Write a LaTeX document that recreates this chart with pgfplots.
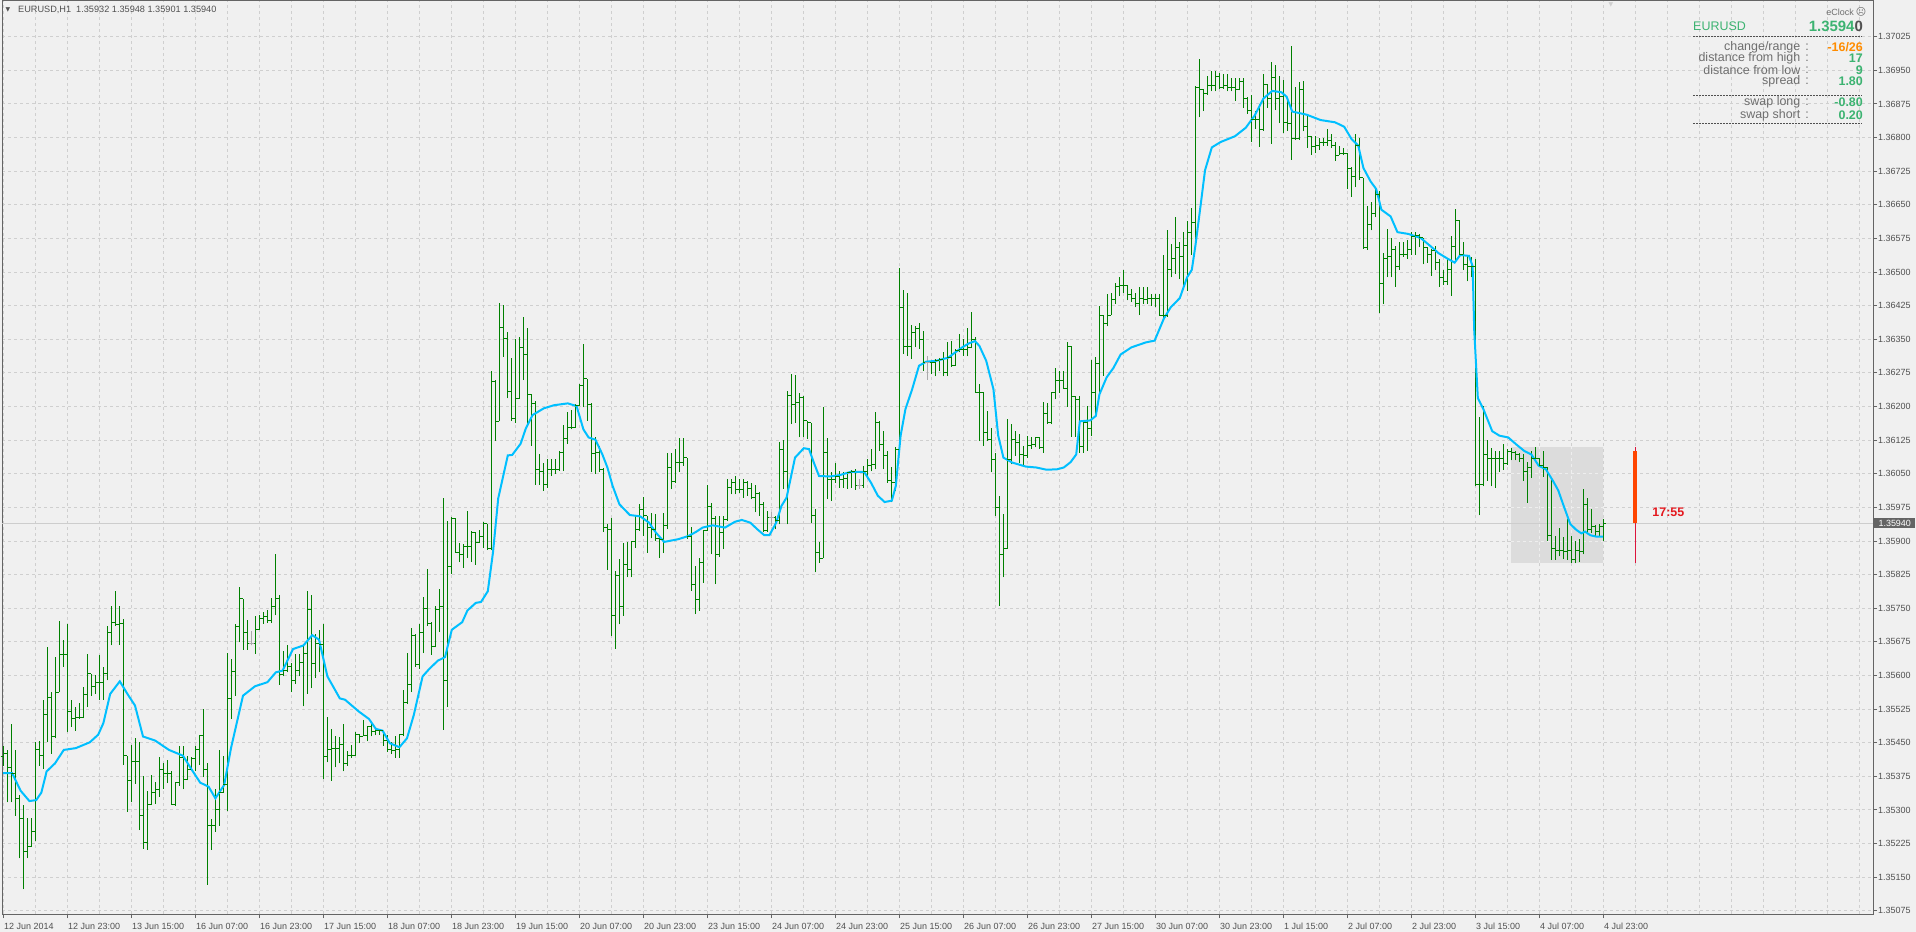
\documentclass[border=0pt]{standalone}
\usepackage{fontspec}
\setmainfont{Liberation Sans}
\newfontfamily\djv{DejaVu Sans}
\usepackage{pgfplots}
\usepackage{pgfplotstable}
\pgfplotsset{compat=1.18}
\definecolor{bg}{RGB}{240,240,240}
\definecolor{gridc}{RGB}{207,207,207}
\definecolor{gridin}{RGB}{238,238,238}
\definecolor{axc}{RGB}{100,100,100}
\definecolor{txt}{RGB}{80,80,80}
\definecolor{lbl}{RGB}{110,110,110}
\definecolor{barg}{RGB}{0,128,0}
\definecolor{doji}{RGB}{170,170,170}
\definecolor{ma}{RGB}{0,191,255}
\definecolor{sea}{RGB}{60,179,113}
\definecolor{dorange}{RGB}{255,140,0}
\definecolor{crim}{RGB}{220,20,60}
\definecolor{ored}{RGB}{255,69,0}
\definecolor{rectc}{RGB}{220,220,220}
\definecolor{cpline}{RGB}{205,205,205}
\definecolor{cpbox}{RGB}{100,100,100}
\definecolor{clockred}{RGB}{228,24,30}

\pgfdeclareplotmark{opentick}{\pgfpathmoveto{\pgfqpoint{-2.5bp}{0pt}}\pgfpathlineto{\pgfqpoint{0pt}{0pt}}\pgfusepathqstroke}
\pgfdeclareplotmark{closetick}{\pgfpathmoveto{\pgfqpoint{0pt}{0pt}}\pgfpathlineto{\pgfqpoint{2.5bp}{0pt}}\pgfusepathqstroke}

\pgfplotstableread{
H L O C
1.35443 1.35398 1.35420 1.35425
1.35434 1.35317 1.35425 1.35395
1.35492 1.35317 1.35395 1.35382
1.35434 1.35287 1.35382 1.35326
1.35334 1.35192 1.35326 1.35280
1.35311 1.35123 1.35280 1.35207
1.35283 1.35192 1.35207 1.35218
1.35283 1.35218 1.35218 1.35251
1.35451 1.35231 1.35251 1.35434
1.35453 1.35399 1.35434 1.35421
1.35546 1.35391 1.35421 1.35512
1.35663 1.35451 1.35512 1.35551
1.35563 1.35425 1.35551 1.35464
1.35641 1.35460 1.35464 1.35563
1.35721 1.35563 1.35563 1.35646
1.35680 1.35620 1.35646 1.35646
1.35715 1.35473 1.35646 1.35519
1.35546 1.35486 1.35519 1.35503
1.35529 1.35477 1.35503 1.35507
1.35539 1.35503 1.35507 1.35507
1.35574 1.35505 1.35507 1.35557
1.35648 1.35529 1.35557 1.35604
1.35604 1.35555 1.35604 1.35576
1.35602 1.35559 1.35576 1.35585
1.35645 1.35546 1.35585 1.35585
1.35620 1.35546 1.35585 1.35604
1.35710 1.35589 1.35604 1.35697
1.35754 1.35667 1.35697 1.35719
1.35788 1.35710 1.35719 1.35713
1.35755 1.35669 1.35713 1.35715
1.35726 1.35401 1.35715 1.35421
1.35421 1.35296 1.35421 1.35365
1.35444 1.35317 1.35365 1.35408
1.35460 1.35358 1.35408 1.35408
1.35451 1.35255 1.35408 1.35287
1.35375 1.35214 1.35287 1.35227
1.35343 1.35211 1.35227 1.35313
1.35378 1.35311 1.35313 1.35339
1.35363 1.35313 1.35339 1.35346
1.35418 1.35330 1.35346 1.35391
1.35404 1.35347 1.35391 1.35382
1.35412 1.35360 1.35382 1.35382
1.35386 1.35313 1.35382 1.35313
1.35363 1.35310 1.35313 1.35361
1.35443 1.35354 1.35361 1.35417
1.35443 1.35346 1.35417 1.35369
1.35421 1.35366 1.35369 1.35391
1.35418 1.35390 1.35391 1.35415
1.35443 1.35386 1.35415 1.35434
1.35468 1.35401 1.35434 1.35467
1.35525 1.35373 1.35467 1.35391
1.35404 1.35133 1.35391 1.35265
1.35280 1.35211 1.35265 1.35265
1.35347 1.35252 1.35265 1.35300
1.35434 1.35265 1.35300 1.35339
1.35421 1.35339 1.35339 1.35356
1.35650 1.35297 1.35356 1.35548
1.35637 1.35503 1.35548 1.35608
1.35715 1.35555 1.35608 1.35710
1.35797 1.35674 1.35710 1.35771
1.35771 1.35657 1.35771 1.35697
1.35723 1.35658 1.35697 1.35671
1.35700 1.35667 1.35671 1.35671
1.35732 1.35648 1.35671 1.35702
1.35736 1.35702 1.35702 1.35728
1.35741 1.35715 1.35728 1.35732
1.35745 1.35717 1.35732 1.35723
1.35772 1.35717 1.35723 1.35755
1.35870 1.35734 1.35755 1.35771
1.35779 1.35579 1.35771 1.35602
1.35654 1.35598 1.35602 1.35611
1.35667 1.35607 1.35611 1.35620
1.35628 1.35563 1.35620 1.35589
1.35648 1.35581 1.35589 1.35611
1.35648 1.35598 1.35611 1.35628
1.35671 1.35531 1.35628 1.35648
1.35788 1.35559 1.35648 1.35748
1.35779 1.35572 1.35748 1.35626
1.35693 1.35594 1.35626 1.35671
1.35702 1.35607 1.35671 1.35669
1.35715 1.35369 1.35669 1.35419
1.35507 1.35406 1.35419 1.35434
1.35481 1.35365 1.35434 1.35438
1.35464 1.35395 1.35438 1.35438
1.35462 1.35404 1.35438 1.35447
1.35492 1.35386 1.35447 1.35404
1.35432 1.35399 1.35404 1.35421
1.35444 1.35417 1.35421 1.35421
1.35473 1.35421 1.35421 1.35468
1.35470 1.35449 1.35468 1.35464
1.35501 1.35464 1.35464 1.35467
1.35487 1.35453 1.35467 1.35486
1.35496 1.35464 1.35486 1.35475
1.35484 1.35467 1.35475 1.35477
1.35481 1.35468 1.35477 1.35477
1.35477 1.35443 1.35477 1.35455
1.35468 1.35430 1.35455 1.35434
1.35451 1.35425 1.35434 1.35432
1.35464 1.35417 1.35432 1.35434
1.35470 1.35417 1.35434 1.35468
1.35568 1.35464 1.35468 1.35539
1.35650 1.35536 1.35539 1.35579
1.35706 1.35563 1.35579 1.35689
1.35692 1.35620 1.35689 1.35624
1.35715 1.35615 1.35624 1.35695
1.35775 1.35650 1.35695 1.35749
1.35838 1.35710 1.35749 1.35717
1.35719 1.35646 1.35717 1.35665
1.35754 1.35663 1.35665 1.35747
1.35792 1.35697 1.35747 1.35755
1.35995 1.35479 1.35755 1.35588
1.35944 1.35529 1.35588 1.35844
1.35954 1.35827 1.35844 1.35950
1.35952 1.35875 1.35950 1.35875
1.35896 1.35853 1.35875 1.35870
1.35894 1.35840 1.35870 1.35887
1.35968 1.35862 1.35887 1.35887
1.35922 1.35853 1.35887 1.35919
1.35919 1.35847 1.35919 1.35896
1.35925 1.35896 1.35896 1.35909
1.35942 1.35885 1.35909 1.35939
1.35939 1.35881 1.35939 1.35883
1.36279 1.35879 1.35883 1.36255
1.36259 1.36123 1.36255 1.36167
1.36430 1.36167 1.36167 1.36376
1.36427 1.36311 1.36376 1.36351
1.36367 1.36218 1.36351 1.36233
1.36308 1.36168 1.36233 1.36173
1.36350 1.36164 1.36173 1.36217
1.36354 1.36217 1.36217 1.36331
1.36400 1.36259 1.36331 1.36315
1.36376 1.36155 1.36315 1.36227
1.36227 1.36112 1.36227 1.36207
1.36212 1.36026 1.36207 1.36060
1.36093 1.36026 1.36060 1.36054
1.36075 1.36012 1.36054 1.36026
1.36084 1.36019 1.36026 1.36060
1.36084 1.36045 1.36060 1.36059
1.36084 1.36049 1.36059 1.36060
1.36101 1.36056 1.36060 1.36097
1.36158 1.36056 1.36097 1.36129
1.36187 1.36116 1.36129 1.36153
1.36192 1.36149 1.36153 1.36153
1.36205 1.36153 1.36153 1.36203
1.36250 1.36201 1.36203 1.36246
1.36339 1.36198 1.36246 1.36262
1.36262 1.36168 1.36262 1.36205
1.36207 1.36053 1.36205 1.36096
1.36131 1.36049 1.36096 1.36097
1.36112 1.36054 1.36097 1.36060
1.36062 1.35920 1.36060 1.35930
1.35937 1.35836 1.35930 1.35926
1.35952 1.35688 1.35926 1.35733
1.35833 1.35660 1.35733 1.35824
1.35859 1.35714 1.35824 1.35754
1.35895 1.35733 1.35754 1.35848
1.35897 1.35819 1.35848 1.35837
1.35900 1.35819 1.35837 1.35898
1.35956 1.35885 1.35898 1.35926
1.35982 1.35923 1.35926 1.35971
1.35999 1.35911 1.35971 1.35956
1.35956 1.35874 1.35956 1.35930
1.35962 1.35906 1.35930 1.35926
1.35960 1.35900 1.35926 1.35905
1.35911 1.35863 1.35905 1.35904
1.35962 1.35873 1.35904 1.35934
1.36096 1.35926 1.35934 1.36064
1.36096 1.36016 1.36064 1.36032
1.36106 1.36030 1.36032 1.36075
1.36129 1.36054 1.36075 1.36075
1.36129 1.36068 1.36075 1.36086
1.36086 1.35904 1.36086 1.35911
1.35932 1.35789 1.35911 1.35804
1.35845 1.35737 1.35804 1.35769
1.35863 1.35744 1.35769 1.35852
1.35925 1.35807 1.35852 1.35923
1.36026 1.35923 1.35923 1.35978
1.35984 1.35871 1.35978 1.35950
1.35956 1.35804 1.35950 1.35871
1.35956 1.35865 1.35871 1.35919
1.35956 1.35882 1.35919 1.35949
1.36038 1.35945 1.35949 1.36020
1.36038 1.36004 1.36020 1.36030
1.36045 1.36004 1.36030 1.36014
1.36038 1.36008 1.36014 1.36016
1.36038 1.35997 1.36016 1.36030
1.36034 1.36001 1.36030 1.36017
1.36030 1.35993 1.36017 1.35997
1.36026 1.35964 1.35997 1.36007
1.36010 1.35956 1.36007 1.35982
1.35986 1.35919 1.35982 1.35923
1.35967 1.35920 1.35923 1.35952
1.35964 1.35934 1.35952 1.35952
1.35956 1.35926 1.35952 1.35945
1.36121 1.35937 1.35945 1.36105
1.36126 1.36016 1.36105 1.36056
1.36235 1.35937 1.36056 1.36224
1.36272 1.36161 1.36224 1.36205
1.36270 1.36164 1.36205 1.36210
1.36231 1.36131 1.36210 1.36220
1.36224 1.36131 1.36220 1.36168
1.36168 1.36127 1.36168 1.36164
1.36164 1.35941 1.36164 1.35956
1.35971 1.35830 1.35956 1.35874
1.35898 1.35852 1.35874 1.35861
1.36198 1.35861 1.35861 1.36097
1.36129 1.35993 1.36097 1.36038
1.36053 1.35990 1.36038 1.36038
1.36075 1.36030 1.36038 1.36045
1.36056 1.36019 1.36045 1.36038
1.36053 1.36019 1.36038 1.36039
1.36054 1.36017 1.36039 1.36053
1.36058 1.36019 1.36053 1.36054
1.36060 1.36014 1.36054 1.36024
1.36038 1.36017 1.36024 1.36024
1.36068 1.36019 1.36024 1.36054
1.36082 1.36038 1.36054 1.36069
1.36105 1.36056 1.36069 1.36071
1.36188 1.36060 1.36071 1.36164
1.36168 1.36101 1.36164 1.36116
1.36146 1.36060 1.36116 1.36090
1.36101 1.36030 1.36090 1.36034
1.36064 1.35986 1.36034 1.36030
1.36109 1.36011 1.36030 1.36105
1.36510 1.36101 1.36105 1.36421
1.36460 1.36317 1.36421 1.36335
1.36453 1.36313 1.36335 1.36335
1.36381 1.36306 1.36335 1.36365
1.36379 1.36332 1.36365 1.36373
1.36387 1.36328 1.36373 1.36350
1.36369 1.36280 1.36350 1.36298
1.36313 1.36260 1.36298 1.36298
1.36302 1.36272 1.36298 1.36298
1.36306 1.36267 1.36298 1.36302
1.36309 1.36280 1.36302 1.36306
1.36321 1.36267 1.36306 1.36277
1.36343 1.36268 1.36277 1.36309
1.36346 1.36289 1.36309 1.36291
1.36328 1.36291 1.36291 1.36324
1.36361 1.36321 1.36324 1.36328
1.36350 1.36313 1.36328 1.36328
1.36375 1.36312 1.36328 1.36332
1.36410 1.36330 1.36332 1.36350
1.36354 1.36231 1.36350 1.36231
1.36250 1.36123 1.36231 1.36231
1.36233 1.36112 1.36231 1.36143
1.36190 1.36123 1.36143 1.36126
1.36153 1.36053 1.36126 1.36082
1.36097 1.35956 1.36082 1.35975
1.36001 1.35755 1.35975 1.35871
1.35960 1.35819 1.35871 1.35883
1.36173 1.35882 1.35883 1.36082
1.36161 1.36071 1.36082 1.36127
1.36146 1.36090 1.36127 1.36120
1.36138 1.36075 1.36120 1.36094
1.36112 1.36068 1.36094 1.36090
1.36135 1.36086 1.36090 1.36112
1.36133 1.36105 1.36112 1.36116
1.36133 1.36109 1.36116 1.36131
1.36133 1.36105 1.36131 1.36109
1.36209 1.36097 1.36109 1.36185
1.36207 1.36161 1.36185 1.36164
1.36231 1.36161 1.36164 1.36231
1.36287 1.36216 1.36231 1.36257
1.36280 1.36231 1.36257 1.36257
1.36280 1.36239 1.36257 1.36240
1.36343 1.36200 1.36240 1.36335
1.36335 1.36133 1.36335 1.36223
1.36223 1.36133 1.36223 1.36215
1.36223 1.36097 1.36215 1.36110
1.36169 1.36097 1.36110 1.36164
1.36202 1.36101 1.36164 1.36152
1.36303 1.36135 1.36152 1.36232
1.36311 1.36177 1.36232 1.36295
1.36425 1.36223 1.36295 1.36404
1.36404 1.36269 1.36404 1.36385
1.36450 1.36379 1.36385 1.36404
1.36454 1.36404 1.36404 1.36439
1.36475 1.36429 1.36439 1.36467
1.36488 1.36446 1.36467 1.36471
1.36505 1.36454 1.36471 1.36471
1.36471 1.36437 1.36471 1.36450
1.36463 1.36433 1.36450 1.36442
1.36454 1.36421 1.36442 1.36429
1.36467 1.36404 1.36429 1.36442
1.36467 1.36429 1.36442 1.36439
1.36467 1.36429 1.36439 1.36442
1.36452 1.36425 1.36442 1.36442
1.36452 1.36421 1.36442 1.36442
1.36452 1.36404 1.36442 1.36404
1.36538 1.36395 1.36404 1.36404
1.36593 1.36400 1.36404 1.36505
1.36563 1.36488 1.36505 1.36530
1.36622 1.36496 1.36530 1.36555
1.36568 1.36484 1.36555 1.36534
1.36589 1.36463 1.36534 1.36559
1.36614 1.36458 1.36559 1.36589
1.36643 1.36538 1.36589 1.36610
1.36916 1.36559 1.36610 1.36912
1.36975 1.36845 1.36912 1.36908
1.36908 1.36859 1.36908 1.36899
1.36937 1.36895 1.36899 1.36916
1.36948 1.36903 1.36916 1.36916
1.36948 1.36903 1.36916 1.36937
1.36943 1.36908 1.36937 1.36912
1.36941 1.36908 1.36912 1.36916
1.36941 1.36903 1.36916 1.36912
1.36933 1.36903 1.36912 1.36912
1.36933 1.36882 1.36912 1.36908
1.36933 1.36905 1.36908 1.36924
1.36933 1.36866 1.36924 1.36887
1.36891 1.36853 1.36887 1.36861
1.36895 1.36790 1.36861 1.36840
1.36859 1.36819 1.36840 1.36840
1.36874 1.36780 1.36840 1.36819
1.36941 1.36815 1.36819 1.36918
1.36920 1.36866 1.36918 1.36887
1.36968 1.36786 1.36887 1.36935
1.36962 1.36861 1.36935 1.36887
1.36937 1.36832 1.36887 1.36891
1.36929 1.36811 1.36891 1.36834
1.36887 1.36815 1.36834 1.36832
1.37004 1.36750 1.36832 1.36797
1.36912 1.36794 1.36797 1.36798
1.36924 1.36795 1.36798 1.36908
1.36926 1.36814 1.36908 1.36824
1.36853 1.36777 1.36824 1.36803
1.36803 1.36761 1.36803 1.36780
1.36803 1.36765 1.36780 1.36782
1.36798 1.36773 1.36782 1.36790
1.36798 1.36782 1.36790 1.36790
1.36819 1.36782 1.36790 1.36794
1.36807 1.36777 1.36794 1.36782
1.36790 1.36748 1.36782 1.36761
1.36782 1.36761 1.36761 1.36765
1.36777 1.36761 1.36765 1.36765
1.36765 1.36685 1.36765 1.36731
1.36735 1.36668 1.36731 1.36714
1.36807 1.36689 1.36714 1.36782
1.36798 1.36706 1.36782 1.36710
1.36710 1.36551 1.36710 1.36555
1.36647 1.36550 1.36555 1.36605
1.36656 1.36593 1.36605 1.36630
1.36689 1.36622 1.36630 1.36672
1.36681 1.36408 1.36672 1.36475
1.36542 1.36429 1.36475 1.36530
1.36597 1.36488 1.36530 1.36534
1.36576 1.36488 1.36534 1.36551
1.36559 1.36467 1.36551 1.36513
1.36568 1.36505 1.36513 1.36538
1.36568 1.36534 1.36538 1.36538
1.36572 1.36530 1.36538 1.36551
1.36589 1.36538 1.36551 1.36580
1.36589 1.36538 1.36580 1.36582
1.36585 1.36555 1.36582 1.36576
1.36576 1.36517 1.36576 1.36555
1.36555 1.36521 1.36555 1.36538
1.36551 1.36492 1.36538 1.36547
1.36559 1.36505 1.36547 1.36521
1.36530 1.36467 1.36521 1.36488
1.36505 1.36471 1.36488 1.36479
1.36530 1.36471 1.36479 1.36505
1.36580 1.36447 1.36505 1.36557
1.36641 1.36521 1.36557 1.36615
1.36615 1.36538 1.36615 1.36538
1.36568 1.36505 1.36538 1.36517
1.36538 1.36479 1.36517 1.36513
1.36534 1.36488 1.36513 1.36513
1.36530 1.36022 1.36513 1.36026
1.36177 1.35957 1.36026 1.36026
1.36202 1.36022 1.36026 1.36093
1.36125 1.36034 1.36093 1.36085
1.36108 1.36022 1.36085 1.36085
1.36101 1.36019 1.36085 1.36085
1.36101 1.36055 1.36085 1.36085
1.36116 1.36059 1.36085 1.36072
1.36106 1.36070 1.36072 1.36100
1.36108 1.36080 1.36100 1.36097
1.36101 1.36080 1.36097 1.36093
1.36097 1.36076 1.36093 1.36085
1.36093 1.36034 1.36085 1.36055
1.36076 1.35985 1.36055 1.36064
1.36101 1.36041 1.36064 1.36085
1.36110 1.36085 1.36085 1.36085
1.36085 1.36064 1.36085 1.36068
1.36100 1.36043 1.36068 1.36064
1.36064 1.35901 1.36064 1.35912
1.36038 1.35858 1.35912 1.35883
1.35912 1.35858 1.35883 1.35879
1.35929 1.35866 1.35879 1.35879
1.35908 1.35859 1.35879 1.35876
1.35950 1.35858 1.35876 1.35879
1.35912 1.35851 1.35879 1.35858
1.35900 1.35850 1.35858 1.35879
1.35904 1.35853 1.35879 1.35876
1.36016 1.35870 1.35876 1.35982
1.35996 1.35917 1.35982 1.35925
1.35971 1.35917 1.35925 1.35932
1.35935 1.35912 1.35932 1.35921
1.35938 1.35912 1.35921 1.35932
1.35948 1.35901 1.35932 1.35940
}\ohlc

% doji bars (open = close), drawn in grey
\pgfplotstableread{
X H L C
62 1.35700 1.35667 1.35671
192 1.35964 1.35934 1.35952
214 1.36038 1.36017 1.36024
231 1.36313 1.36260 1.36298
}\doji

\begin{document}
\begin{tikzpicture}
\useasboundingbox (0,0) rectangle (1916bp,932bp);
\fill[bg] (0,0) rectangle (1916bp,932bp);
\begin{axis}[
  at={(2bp,18bp)}, anchor=south west,
  scale only axis, width=1871bp, height=913bp,
  % y axis in points above 1.35000 (prices are converted by the filter)
  y filter/.expression={(y-1.35)*100000},
  xmin=-0.25, xmax=467.5, ymin=68, ymax=2104.6,
  axis line style={draw=axc, line width=1bp},
  tick style={draw=axc, line width=1bp},
  tick align=outside, major tick length=4bp, minor tick length=0pt,
  xtick pos=bottom, ytick pos=right, yticklabel pos=right,
  xtick={0,16,...,400},
  xticklabels={12 Jun 2014,12 Jun 23:00,13 Jun 15:00,16 Jun 07:00,16 Jun 23:00,17 Jun 15:00,18 Jun 07:00,18 Jun 23:00,19 Jun 15:00,20 Jun 07:00,20 Jun 23:00,23 Jun 15:00,24 Jun 07:00,24 Jun 23:00,25 Jun 15:00,26 Jun 07:00,26 Jun 23:00,27 Jun 15:00,30 Jun 07:00,30 Jun 23:00,1 Jul 15:00,2 Jul 07:00,2 Jul 23:00,3 Jul 15:00,4 Jul 07:00,4 Jul 23:00},
  minor xtick={0,8,...,464},
  ytick={75,150,...,2025},
  yticklabels={1.35075,1.35150,1.35225,1.35300,1.35375,1.35450,1.35525,1.35600,1.35675,1.35750,1.35825,1.35900,1.35975,1.36050,1.36125,1.36200,1.36275,1.36350,1.36425,1.36500,1.36575,1.36650,1.36725,1.36800,1.36875,1.36950,1.37025},
  xmajorgrids=false, xminorgrids=true, ymajorgrids=true,
  major grid style={draw=gridc, line width=1bp, dash pattern=on 3bp off 3bp},
  minor grid style={draw=gridc, line width=1bp, dash pattern=on 3bp off 3bp},
  xticklabel style={anchor=north west, inner sep=0pt, xshift=1bp, yshift=-5bp, font=\fontsize{9}{10}\selectfont, text=txt},
  yticklabel style={anchor=west, inner sep=0pt, xshift=1bp, font=\fontsize{9}{10}\selectfont, text=txt},
]
% today's range rectangle
\addplot[draw=none, fill=rectc] coordinates {(377,1.35850) (400,1.35850) (400,1.36110) (377,1.36110)};
% grid seen through the rectangle (lighter)
\addplot[gridin, line width=1bp, dash pattern=on 3bp off 3bp] coordinates {(384,1.35850) (384,1.36110)};
\addplot[gridin, line width=1bp, dash pattern=on 3bp off 3bp] coordinates {(392,1.35850) (392,1.36110)};
\addplot[gridin, line width=1bp, dash pattern=on 3bp off 3bp] coordinates {(400,1.35850) (400,1.36110)};
\addplot[gridin, line width=1bp, dash pattern=on 3bp off 3bp] coordinates {(377,1.35900) (400,1.35900)};
\addplot[gridin, line width=1bp, dash pattern=on 3bp off 3bp] coordinates {(377,1.35975) (400,1.35975)};
\addplot[gridin, line width=1bp, dash pattern=on 3bp off 3bp] coordinates {(377,1.36050) (400,1.36050)};
% current price line
\addplot[cpline, line width=1bp] coordinates {(-0.25,1.35940) (467.5,1.35940)};
% high-low bars
\addplot[draw=none, mark=none,
  error bars/.cd, y dir=plus, y explicit, error mark=none,
  error bar style={draw=barg, line width=1bp, solid}]
  table[x expr=\coordindex, y=L, y error expr=(\thisrow{H}-\thisrow{L})*100000] {\ohlc};
% open and close ticks
\addplot[only marks, mark=opentick, mark options={draw=barg, line width=1bp, solid}]
  table[x expr=\coordindex, y=O] {\ohlc};
\addplot[only marks, mark=closetick, mark options={draw=barg, line width=1bp, solid}]
  table[x expr=\coordindex, y=C] {\ohlc};
% doji bars in grey
\addplot[draw=none, mark=none,
  error bars/.cd, y dir=plus, y explicit, error mark=none,
  error bar style={draw=doji, line width=1bp, solid}]
  table[x=X, y=L, y error expr=(\thisrow{H}-\thisrow{L})*100000] {\doji};
\addplot[only marks, mark=opentick, mark options={draw=doji, line width=1bp, solid}]
  table[x=X, y=C] {\doji};
\addplot[only marks, mark=closetick, mark options={draw=doji, line width=1bp, solid}]
  table[x=X, y=C] {\doji};
% moving average
\addplot[ma, line width=2bp, mark=none] coordinates {
(0,1.35382)(2.3,1.35382)(4.4,1.35343)(6.6,1.35320)(8.3,1.35322)(9.6,1.35339)(10.9,1.35386)(13,1.35404)(15.2,1.35434)(18.2,1.35438)(21.7,1.35451)(23.8,1.35468)(25.1,1.35494)(26.8,1.35559)(29.2,1.35587)(31.1,1.35559)(33,1.35533)(35,1.35464)(38,1.35455)(41.5,1.35434)(45,1.35421)(47.1,1.35391)(49.3,1.35361)(51.4,1.35352)(53.1,1.35326)(55.3,1.35356)(57,1.35438)(60,1.35555)(63,1.35576)(66.1,1.35585)(68.2,1.35607)(69.9,1.35611)(72.5,1.35659)(75.1,1.35667)(77.3,1.35690)(79,1.35680)(81.1,1.35598)(84.2,1.35549)(85.5,1.35546)(88.9,1.35520)(91.5,1.35503)(93.2,1.35481)(94.9,1.35477)(96.7,1.35449)(99.1,1.35440)(101,1.35460)(102.7,1.35512)(104.9,1.35598)(106.6,1.35615)(108.7,1.35633)(110.5,1.35641)(112.2,1.35702)(114.8,1.35719)(116.1,1.35745)(118.2,1.35762)(119.5,1.35764)(121.2,1.35788)(122.5,1.35875)(123.8,1.35995)(126.2,1.36091)(127.3,1.36092)(129.4,1.36117)(130.7,1.36151)(132.4,1.36181)(135.2,1.36196)(137.8,1.36203)(141.2,1.36207)(143.4,1.36201)(145.1,1.36149)(146.4,1.36131)(148.1,1.36126)(149.8,1.36094)(151.1,1.36064)(152.4,1.36023)(154.1,1.35982)(156.7,1.35958)(159.3,1.35955)(161.5,1.35941)(163.2,1.35919)(165.3,1.35898)(168.8,1.35904)(171.3,1.35911)(173.2,1.35920)(174.9,1.35930)(177.4,1.35935)(180.5,1.35930)(183,1.35943)(184.7,1.35947)(186.8,1.35941)(188.6,1.35926)(190.3,1.35913)(191.6,1.35913)(193.3,1.35941)(194.6,1.35978)(195.9,1.35997)(198,1.36086)(200.2,1.36107)(201.5,1.36105)(202.7,1.36075)(204,1.36045)(206.7,1.36044)(209.2,1.36047)(211.8,1.36054)(215.3,1.36054)(217,1.36030)(218.7,1.36001)(220.4,1.35987)(222.2,1.35990)(223.2,1.36023)(224.4,1.36135)(225.6,1.36194)(227.3,1.36239)(229,1.36291)(230.8,1.36300)(233.3,1.36302)(236.3,1.36309)(238.1,1.36321)(239.8,1.36332)(241.5,1.36341)(243,1.36346)(244.1,1.36335)(245.8,1.36302)(247.6,1.36239)(248.8,1.36135)(250.1,1.36086)(252.3,1.36075)(255.7,1.36066)(258.3,1.36064)(260.9,1.36059)(263.5,1.36060)(265.2,1.36064)(266.9,1.36076)(268.3,1.36093)(269.2,1.36167)(271.8,1.36169)(273.2,1.36179)(274.1,1.36227)(275.9,1.36265)(277.6,1.36286)(279.4,1.36316)(282.1,1.36332)(285.7,1.36343)(287.9,1.36347)(290.2,1.36396)(291.9,1.36421)(294.2,1.36442)(296,1.36488)(297.2,1.36505)(298.1,1.36559)(299.5,1.36656)(300.5,1.36727)(302.2,1.36778)(304.4,1.36790)(308,1.36803)(310.7,1.36822)(312.9,1.36849)(315.1,1.36887)(317.3,1.36904)(319.6,1.36901)(320.9,1.36891)(322.3,1.36858)(325.9,1.36851)(329.4,1.36839)(333,1.36834)(335.3,1.36824)(337.1,1.36797)(338.8,1.36782)(340.1,1.36732)(341.9,1.36702)(343.3,1.36685)(344.6,1.36639)(346.9,1.36624)(348.6,1.36589)(351.3,1.36585)(354.4,1.36576)(356.7,1.36559)(358.9,1.36542)(361.1,1.36530)(362.9,1.36521)(364.3,1.36538)(366.5,1.36536)(367.4,1.36513)(367.8,1.36370)(368.7,1.36219)(370.1,1.36194)(372.3,1.36145)(374.1,1.36135)(376.3,1.36131)(378.5,1.36114)(380.3,1.36101)(382.1,1.36093)(383.9,1.36068)(385.7,1.36060)(387.5,1.36034)(388.8,1.36013)(390.1,1.35980)(391.8,1.35938)(393.3,1.35925)(394.6,1.35917)(395.5,1.35921)(396.8,1.35913)(398.2,1.35910)(400,1.35910)
};
% day range / change bar
\addplot[crim, line width=1bp] coordinates {(408,1.35850) (408,1.36110)};
\addplot[ored, line width=4bp] coordinates {(408,1.36100) (408,1.35940)};
\node[anchor=west, inner sep=0pt, text=clockred, font=\bfseries\fontsize{12.5}{14}\selectfont] at (axis cs:412.3,965) {17:55};
\coordinate (cp) at (axis cs:467.5,940);
\end{axis}
% current price label
\node[fill=cpbox, text=white, anchor=west, inner xsep=0pt, inner ysep=1.6bp, minimum width=41bp, font=\fontsize{9}{10}\selectfont] at ([xshift=1bp]cp) {1.35940};
% header
\node[anchor=center, inner sep=0pt, text=txt] at (8bp,922bp) {\djv\fontsize{6}{6}\selectfont ▼};
\node[anchor=west, inner sep=0pt, text=txt, font=\fontsize{9.2}{11}\selectfont] at (18bp,922bp) {EURUSD,H1\ \ 1.35932 1.35948 1.35901 1.35940};
\node[anchor=center, inner sep=0pt, text=gridc] at (1611bp,927bp) {\djv\fontsize{6}{6}\selectfont ▼};
% info panel
\node[anchor=east, inner sep=0pt, text=lbl, font=\fontsize{9}{10}\selectfont] at (1854bp,920bp) {eClock};
\node[anchor=center, inner sep=0pt, text=lbl] at (1861bp,920bp) {\djv\fontsize{10}{10}\selectfont ☹};
\node[anchor=west, inner sep=0pt, text=sea, font=\fontsize{12.5}{14}\selectfont] at (1693bp,906bp) {EURUSD};
\node[anchor=east, inner sep=0pt, font=\bfseries\fontsize{15}{17}\selectfont] at (1863bp,906bp) {\textcolor{sea}{1.3594}\textcolor{txt}{0}};
\draw[txt, line width=1bp, dash pattern=on 2bp off 1bp] (1693bp,895bp) -- (1862bp,895bp);
\draw[txt, line width=1bp, dash pattern=on 2bp off 1bp] (1693bp,836bp) -- (1862bp,836bp);
\draw[txt, line width=1bp, dash pattern=on 2bp off 1bp] (1693bp,808bp) -- (1862bp,808bp);
\foreach \yy/\lab/\val/\col in {885/change\slash range/-16\slash 26/dorange, 873.5/distance from high/17/sea, 862/distance from low/9/sea, 850.5/spread/1.80/sea, 830/swap long/-0.80/sea, 817/swap short/0.20/sea}{
  \node[anchor=east, inner sep=0pt, text=lbl, font=\fontsize{12.5}{14}\selectfont] at (1800.5bp,\yy bp) {\lab};
  \node[anchor=center, inner sep=0pt, text=lbl, font=\fontsize{12.5}{14}\selectfont] at (1807bp,\yy bp) {:};
  \node[anchor=east, inner sep=0pt, text=\col, font=\bfseries\fontsize{12.5}{14}\selectfont] at (1863bp,\yy bp) {\val};
}
\end{tikzpicture}
\end{document}
